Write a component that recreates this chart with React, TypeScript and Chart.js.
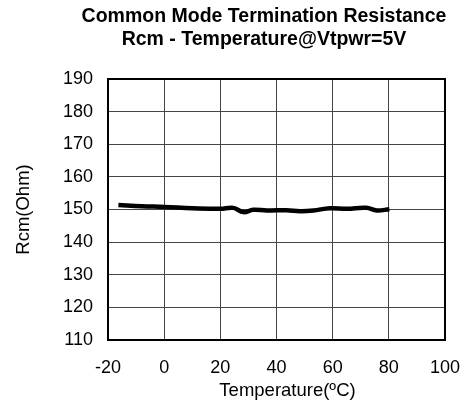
import React, { useEffect, useRef } from "react";
import { Chart, registerables } from "chart.js";

Chart.register(...registerables);

const titleLines = ["Common Mode Termination Resistance", "Rcm - Temperature@Vtpwr=5V"];
const xTitle = "Temperature(\u00baC)";
const yTitle = "Rcm(Ohm)";
const temperatures = [-16.3, -8, 0, 10, 20, 24.6, 28.2, 31.7, 36.5, 43.6, 48.4, 53.1, 59, 65, 72, 75.7, 80.2];
const rcmValues = [151.4, 151.0, 150.8, 150.4, 150.2, 150.5, 149.2, 149.9, 149.7, 149.8, 149.5, 149.7, 150.4, 150.2, 150.5, 149.7, 150.1];
const xMin = -20, xMax = 100, xStep = 20;
const yMin = 110, yMax = 190, yStep = 10;

const FONT = "'Liberation Sans', Arial, sans-serif";

const framePlugin = {
  id: "frameAndTitle",
  afterDraw(chart: any) {
    const { ctx, chartArea } = chart;
    ctx.save();
    ctx.strokeStyle = "#000";
    ctx.lineWidth = 2;
    ctx.strokeRect(chartArea.left, chartArea.top, chartArea.right - chartArea.left, chartArea.bottom - chartArea.top);
    ctx.fillStyle = "#000";
    ctx.font = `bold 19.5px ${FONT}`;
    ctx.textAlign = "center";
    ctx.textBaseline = "middle";
    const cx = 264;
    ctx.fillText(titleLines[0], cx, 17);
    ctx.fillText(titleLines[1], cx, 40);
    ctx.font = `18.5px ${FONT}`;
    ctx.fillText(xTitle, (chartArea.left + chartArea.right) / 2 + 11, 391);
    ctx.restore();
  },
};

export default function App() {
  const ref = useRef<HTMLCanvasElement>(null);
  useEffect(() => {
    document.body.style.margin = "0";
    const chart = new Chart(ref.current!, {
      type: "line",
      data: {
        datasets: [
          {
            data: temperatures.map((t, i) => ({ x: t, y: rcmValues[i] })),
            borderColor: "#000",
            borderWidth: 4.5,
            pointRadius: 0,
            tension: 0.4,
            fill: false,
          },
        ],
      },
      options: {
        animation: false,
        responsive: false,
        layout: { padding: { top: 79, right: 20, left: 0, bottom: 0 } },
        plugins: { legend: { display: false }, tooltip: { enabled: false }, title: { display: false } },
        scales: {
          x: {
            type: "linear",
            min: xMin,
            max: xMax,
            ticks: { stepSize: xStep, color: "#000", font: { family: FONT, size: 18 }, padding: 17, maxRotation: 0 },
            grid: { color: "#444", lineWidth: 1, drawTicks: false },
            border: { color: "#000", width: 2 },
            title: { display: false },
            afterFit: (s: any) => { s.height = 63; s.paddingRight = 0; s.paddingLeft = 0; },
          },
          y: {
            type: "linear",
            min: yMin,
            max: yMax,
            ticks: { stepSize: yStep, color: "#000", font: { family: FONT, size: 18 }, padding: 15 },
            grid: { color: "#444", lineWidth: 1, drawTicks: false },
            border: { color: "#000", width: 2 },
            title: { display: true, text: yTitle, color: "#000", font: { family: FONT, size: 18.5 }, padding: { top: 13, bottom: 0 } },
            afterFit: (s: any) => { s.width = 108; s.paddingTop = 0; s.paddingBottom = 0; },
          },
        },
      },
      plugins: [framePlugin],
    });
    return () => chart.destroy();
  }, []);
  return (
    <div style={{ width: 465, height: 403 }}>
      <canvas ref={ref} width={465} height={403} style={{ display: "block" }} />
    </div>
  );
}
